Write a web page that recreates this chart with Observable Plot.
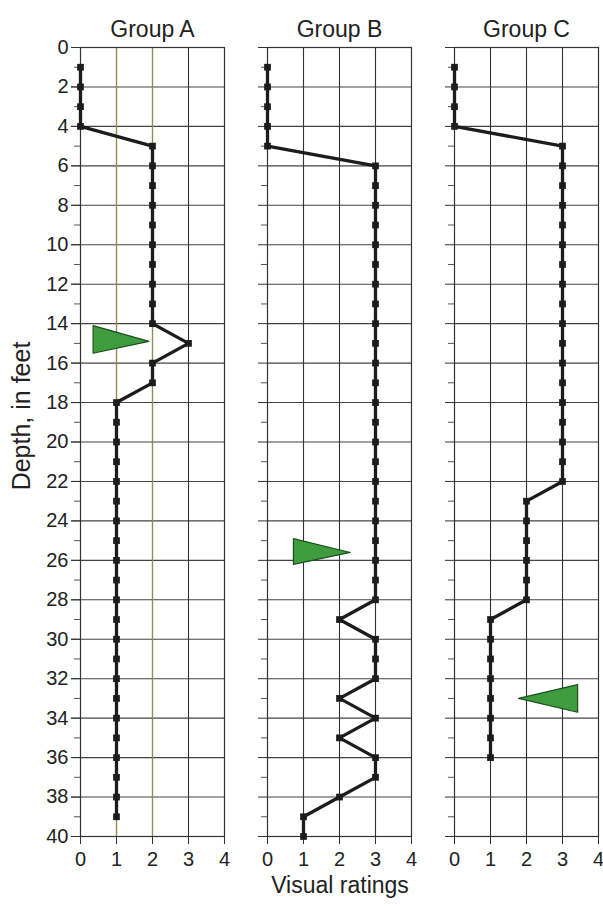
<!DOCTYPE html>
<html>
<head>
<meta charset="utf-8">
<script src="https://cdn.jsdelivr.net/npm/d3@7"></script>
<script src="https://cdn.jsdelivr.net/npm/@observablehq/plot@0.6"></script>
<style>
  html, body { margin: 0; padding: 0; background: #fff; }
  #chart { width: 603px; height: 906px; }
</style>
</head>
<body>
<div id="chart"></div>
<script>
// ---- data ----
const groups = ["Group A", "Group B", "Group C"];

const depthA  = [1,2,3,4,5,6,7,8,9,10,11,12,13,14,15,16,17,18,19,20,21,22,23,24,25,26,27,28,29,30,31,32,33,34,35,36,37,38,39];
const ratingA = [0,0,0,0,2,2,2,2,2,2,2,2,2,2,3,2,2,1,1,1,1,1,1,1,1,1,1,1,1,1,1,1,1,1,1,1,1,1,1];

const depthB  = [1,2,3,4,5,6,7,8,9,10,11,12,13,14,15,16,17,18,19,20,21,22,23,24,25,26,27,28,29,30,31,32,33,34,35,36,37,38,39,40];
const ratingB = [0,0,0,0,0,3,3,3,3,3,3,3,3,3,3,3,3,3,3,3,3,3,3,3,3,3,3,3,2,3,3,3,2,3,2,3,3,2,1,1];

const depthC  = [1,2,3,4,5,6,7,8,9,10,11,12,13,14,15,16,17,18,19,20,21,22,23,24,25,26,27,28,29,30,31,32,33,34,35,36];
const ratingC = [0,0,0,0,3,3,3,3,3,3,3,3,3,3,3,3,3,3,3,3,3,3,2,2,2,2,2,2,1,1,1,1,1,1,1,1];

// green triangle markers (vertices, closed)
const triGroup = ["Group A","Group A","Group A","Group A","Group B","Group B","Group B","Group B","Group C","Group C","Group C","Group C"];
const triX     = [0.35, 0.35, 1.9, 0.35, 0.72, 0.72, 2.3, 0.72, 3.42, 3.42, 1.78, 3.42];
const triY     = [14.1, 15.5, 14.9, 14.1, 24.9, 26.2, 25.6, 24.9, 32.3, 33.7, 33.0, 32.3];

const majorDepthTicks = [0,2,4,6,8,10,12,14,16,18,20,22,24,26,28,30,32,34,36,38,40];
const minorDepthTicks = [1,3,5,7,9,11,13,15,17,19,21,23,25,27,29,31,33,35,37,39];
const ratingTicks = [0,1,2,3,4];
const innerRatingTicks = [1,2,3];
const oliveTicksA = [1,2];

const xLabel = "Visual ratings";
const yLabel = "Depth, in feet";

// ---- tables ----
const rows = [];
[[depthA, ratingA], [depthB, ratingB], [depthC, ratingC]].forEach(([ds, rs], gi) => {
  ds.forEach((d, i) => rows.push({group: groups[gi], depth: d, rating: rs[i]}));
});
const tri = triGroup.map((g, i) => ({group: g, x: triX[i], y: triY[i]}));
const oliveRules = oliveTicksA.map(v => ({group: "Group A", x: v}));

const font = "'Liberation Sans', Arial, Helvetica, sans-serif";
const ink = "#222";

const svg = Plot.plot({
  width: 603,
  height: 906,
  marginTop: 47,
  marginBottom: 70,
  marginLeft: 80,
  marginRight: 5,
  style: {fontFamily: font, fontSize: "20px", color: ink, background: "#fff", overflow: "visible"},
  fx: {domain: groups, paddingInner: 0.23, paddingOuter: 0, axis: null, round: false},
  x: {domain: [0, 4], axis: null},
  y: {domain: [0, 40], reverse: true, axis: null},
  marks: [
    Plot.gridY(majorDepthTicks, {stroke: "#444", strokeOpacity: 1, strokeWidth: 1.1}),
    Plot.gridX(innerRatingTicks, {stroke: "#333", strokeOpacity: 1, strokeWidth: 1.1}),
    Plot.ruleX(oliveRules, {x: "x", fx: "group", stroke: "#8f8f45", strokeWidth: 1.2}),
    Plot.frame({stroke: "#333", strokeWidth: 1.2}),
    Plot.axisY(majorDepthTicks, {anchor: "left", tickSize: 9, tickPadding: 3, label: null, fontSize: 20, stroke: "#333"}),
    Plot.axisY(majorDepthTicks, {anchor: "left", tickSize: 9, tickFormat: () => "", label: null, facetAnchor: null, stroke: "#333"}),
    Plot.axisY(minorDepthTicks, {anchor: "left", tickSize: 6, tickFormat: () => "", label: null, facetAnchor: null, stroke: "#555"}),
    Plot.axisX(ratingTicks, {anchor: "bottom", tickSize: 8, tickPadding: 7, label: null, fontSize: 20, stroke: "#333"}),
    Plot.line(tri, {x: "x", y: "y", fx: "group", z: "group", fill: "#3e9b3e", stroke: "#1d4f1d", strokeWidth: 1.2, curve: "linear"}),
    Plot.line(rows, {x: "rating", y: "depth", fx: "group", z: "group", stroke: "#1c1c1c", strokeWidth: 3.3, strokeLinejoin: "round"}),
    Plot.dot(rows, {x: "rating", y: "depth", fx: "group", symbol: "square", r: 3.8, fill: "#1c1c1c", stroke: "none"}),
    Plot.text(groups, {fx: d => d, text: d => d, frameAnchor: "top", dy: -27, fontSize: 23, fill: ink})
  ]
});

const s = d3.select(svg);
s.append("text")
  .attr("x", 340).attr("y", 885)
  .attr("text-anchor", "middle").attr("dominant-baseline", "central")
  .attr("font-family", font).attr("font-size", 23).attr("fill", ink)
  .text(xLabel);
s.append("text")
  .attr("transform", "translate(21,416) rotate(-90)")
  .attr("text-anchor", "middle").attr("dominant-baseline", "central")
  .attr("font-family", font).attr("font-size", 25).attr("fill", ink)
  .text(yLabel);

document.getElementById("chart").appendChild(svg);
</script>
</body>
</html>
